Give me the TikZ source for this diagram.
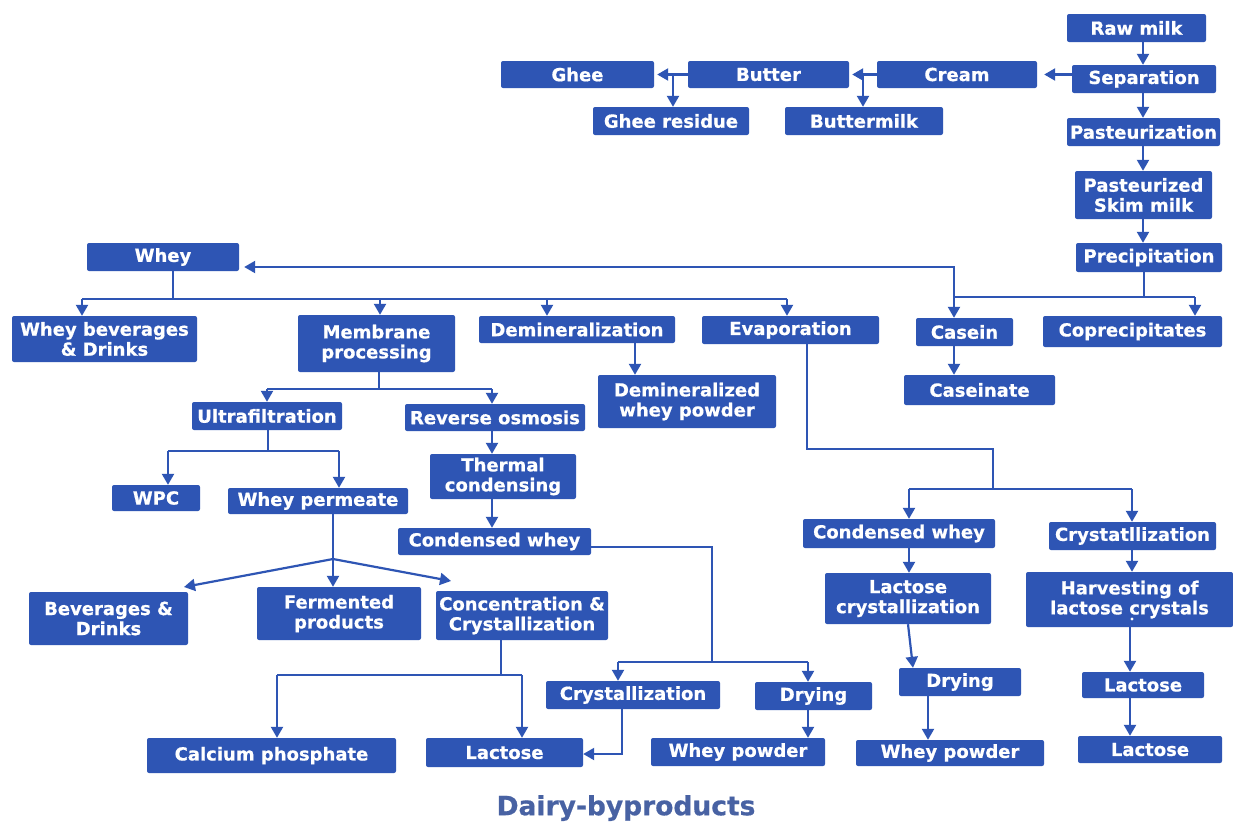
\documentclass[tikz,border=0pt]{standalone}
\usepackage{fontspec}
\setmainfont{DejaVu Sans}
\newfontfamily\boxfont{DejaVu Sans Bold}[FakeBold=0.6]
\usetikzlibrary{arrows.meta,calc}
\definecolor{boxblue}{RGB}{46,85,180}
\definecolor{titleblue}{RGB}{72,98,163}
\tikzset{
  box/.style={fill=boxblue, rounded corners=2pt, text=white, align=center,
    font=\boxfont\fontsize{18}{20}\selectfont, inner sep=1pt},
  link/.style={draw=boxblue, line width=2.2pt},
  arr/.style={link, -{Triangle[length=11pt,width=12pt]}},
}
% box from its corners: name, x1, y1, x2, y2, text
\newcommand{\bx}[6]{\node[box, minimum width={(#4-#2)*1pt}, minimum height={(#5-#3)*1pt}]
  (#1) at ({(#2+#4)/2},{(#3+#5)/2}) {#6};}
\begin{document}
\begin{tikzpicture}[x=1pt,y=-1pt]
\useasboundingbox[fill=white] (0,0) rectangle (1233,825);

% milk and cream
\bx{rawmilk}{1067}{14}{1206}{42}{Raw milk}
\bx{separation}{1072}{65}{1216}{93}{Separation}
\bx{pasteurization}{1067}{118}{1220}{146}{Pasteurization}
\bx{skim}{1075}{171}{1212}{219}{Pasteurized\\Skim milk}
\bx{precip}{1076}{243}{1222}{272}{Precipitation}
\bx{cream}{877}{61}{1037}{88}{Cream}
\bx{butter}{688}{61}{849}{88}{Butter}
\bx{ghee}{501}{61}{654}{88}{Ghee}
\bx{gheeres}{593}{107}{749}{135}{Ghee residue}
\bx{buttermilk}{785}{107}{943}{135}{Buttermilk}

% whey and its first products
\bx{whey}{87}{243}{239}{271}{Whey}
\bx{wheybev}{12}{316}{197}{362}{Whey beverages\\\& Drinks}
\bx{membrane}{298}{315}{455}{372}{Membrane\\processing}
\bx{demin}{479}{316}{675}{343}{Demineralization}
\bx{evap}{702}{316}{879}{344}{Evaporation}
\bx{casein}{916}{318}{1013}{346}{Casein}
\bx{coprec}{1043}{316}{1222}{347}{Coprecipitates}
\bx{caseinate}{904}{375}{1055}{405}{Caseinate}
\bx{deminpow}{598}{375}{776}{428}{Demineralized\\whey powder}

% membrane branch
\bx{ultra}{192}{402}{342}{430}{Ultrafiltration}
\bx{ro}{405}{404}{585}{431}{Reverse osmosis}
\bx{wpc}{112}{485}{200}{511}{WPC}
\bx{permeate}{228}{488}{408}{514}{Whey permeate}
\bx{thermal}{430}{454}{576}{499}{Thermal\\condensing}
\bx{condmid}{398}{528}{591}{555}{Condensed whey}
\bx{bev}{29}{592}{188}{645}{Beverages \&\\Drinks}
\bx{ferm}{257}{587}{421}{640}{Fermented\\products}
\bx{conc}{436}{591}{608}{640}{Concentration \&\\Crystallization}
\bx{cryst1}{546}{681}{720}{709}{Crystallization}
\bx{drymid}{755}{682}{872}{710}{Drying}
\bx{wpmid}{651}{738}{825}{766}{Whey powder}
\bx{calph}{147}{738}{396}{773}{Calcium phosphate}
\bx{lac1}{426}{738}{583}{767}{Lactose}

% evaporation branch
\bx{condR}{803}{519}{995}{548}{Condensed whey}
\bx{crystR}{1049}{522}{1216}{550}{Crystatllization}
\bx{lacryst}{825}{573}{991}{624}{Lactose\\crystallization}
\bx{harvest}{1026}{572}{1233}{627}{Harvesting of\\lactose crystals}
\bx{dryR}{899}{668}{1021}{696}{Drying}
\bx{wpR}{856}{740}{1044}{766}{Whey powder}
\bx{lacU}{1082}{672}{1204}{698}{Lactose}
\bx{lacL}{1078}{736}{1222}{763}{Lactose}
\fill[white] (1132,619) circle (1.6);

\node[font=\boxfont\fontsize{26.5}{30}\selectfont, text=titleblue] (title) at (626,808) {Dairy-byproducts};

% ---- connectors ----
\coordinate (spine) at (1143,0);
\draw[arr] (spine |- rawmilk.south) -- (spine |- separation.north);
\draw[arr] (spine |- separation.south) -- (spine |- pasteurization.north);
\draw[arr] (spine |- pasteurization.south) -- (spine |- skim.north);
\draw[arr] (spine |- skim.south) -- (spine |- precip.north);

\draw[arr, shorten >=7pt] (separation.west |- cream.east) -- (cream.east);
\draw[arr, shorten >=3pt] (cream.west) -- (butter.east);
\coordinate (bm) at (863,0);
\draw[arr] (bm |- cream.west) -- (bm |- buttermilk.north);
\draw[arr, shorten >=3pt] (butter.west) -- (ghee.east);
\coordinate (gr) at (673,0);
\draw[arr] (gr |- butter.west) -- (gr |- gheeres.north);

% precipitation split
\coordinate (pj) at (1144,297);
\coordinate (cas) at (954,297);
\coordinate (cop) at (1195,297);
\coordinate (wy) at (954,267);
\draw[link] (pj |- precip.south) -- (pj);
\draw[link] (cas) -- (cop);
\draw[arr] (cas) -- (cas |- casein.north);
\draw[arr] (cop) -- (cop |- coprec.north);
\draw[arr, shorten >=5pt] (cas) -- (wy) -- (whey.east |- wy);
\draw[arr] (cas |- casein.south) -- (cas |- caseinate.north);

% whey split
\coordinate (wj) at (173,299);
\coordinate (wl) at (82,299);
\coordinate (wm) at (380,299);
\coordinate (wd) at (547,299);
\coordinate (wr) at (787,299);
\draw[link] (wj |- whey.south) -- (wj);
\draw[link] (wl) -- (wr);
\draw[arr] (wl) -- (wl |- wheybev.north);
\draw[arr] (wm) -- (wm |- membrane.north);
\draw[arr] (wd) -- (wd |- demin.north);
\draw[arr] (wr) -- (wr |- evap.north);
\coordinate (dm) at (635,0);
\draw[arr] (dm |- demin.south) -- (dm |- deminpow.north);

% evaporation
\coordinate (ev1) at (807,449);
\coordinate (ev2) at (993,449);
\coordinate (ev3) at (993,489);
\coordinate (evl) at (909,489);
\coordinate (evr) at (1132,489);
\draw[link] (ev1 |- evap.south) -- (ev1) -- (ev2) -- (ev3);
\draw[link] (evl) -- (evr);
\draw[arr] (evl) -- (evl |- condR.north);
\draw[arr] (evr) -- (evr |- crystR.north);
\draw[arr] (evl |- condR.south) -- (evl |- lacryst.north);
\draw[arr] (evr |- crystR.south) -- (evr |- harvest.north);
\coordinate (dr) at (913,0);
\draw[arr] (lacryst.south) -- (dr |- dryR.north);
\coordinate (wpx) at (928,0);
\draw[arr] (wpx |- dryR.south) -- (wpx |- wpR.north);
\coordinate (lx) at (1130,0);
\draw[arr] (lx |- harvest.south) -- (lx |- lacU.north);
\draw[arr] (lx |- lacU.south) -- (lx |- lacL.north);

% membrane processing
\coordinate (mj) at (379,389);
\coordinate (ml) at (267,389);
\coordinate (mr) at (492,389);
\draw[link] (mj |- membrane.south) -- (mj);
\draw[link] (ml) -- (mr);
\draw[arr] (ml) -- (ml |- ultra.north);
\draw[arr] (mr) -- (mr |- ro.north);
\draw[arr] (mr |- ro.south) -- (mr |- thermal.north);
\draw[arr] (mr |- thermal.south) -- (mr |- condmid.north);

% ultrafiltration
\coordinate (uj) at (268,451);
\coordinate (ul) at (168,451);
\coordinate (ur) at (339,451);
\draw[link] (uj |- ultra.south) -- (uj);
\draw[link] (ul) -- (ur);
\draw[arr] (ul) -- (ul |- wpc.north);
\draw[arr] (ur) -- (ur |- permeate.north);

% whey permeate uses
\coordinate (pp) at (333,559);
\coordinate (tb) at (184,587);
\coordinate (tc) at (451,581);
\draw[link] (pp |- permeate.south) -- (pp);
\draw[arr] (pp) -- (tb);
\draw[arr] (pp) -- (pp |- ferm.north);
\draw[arr] (pp) -- (tc);

% concentration & crystallization
\coordinate (cj) at (501,675);
\coordinate (cjl) at (277,675);
\coordinate (cjr) at (522,675);
\draw[link] (cj |- conc.south) -- (cj);
\draw[link] (cjl) -- (cjr);
\draw[arr] (cjl) -- (cjl |- calph.north);
\draw[arr] (cjr) -- (cjr |- lac1.north);

% condensed whey
\coordinate (cm1) at (712,547);
\coordinate (cm2) at (712,662);
\coordinate (cml) at (618,662);
\coordinate (cmr) at (808,662);
\draw[link] (condmid.east |- cm1) -- (cm1) -- (cm2);
\draw[link] (cml) -- (cmr);
\draw[arr] (cml) -- (cml |- cryst1.north);
\draw[arr] (cmr) -- (cmr |- drymid.north);
\coordinate (cl1) at (622,754);
\draw[arr] (cl1 |- cryst1.south) -- (cl1) -- (cl1 -| lac1.east);
\draw[arr] (cmr |- drymid.south) -- (cmr |- wpmid.north);
\end{tikzpicture}
\end{document}
